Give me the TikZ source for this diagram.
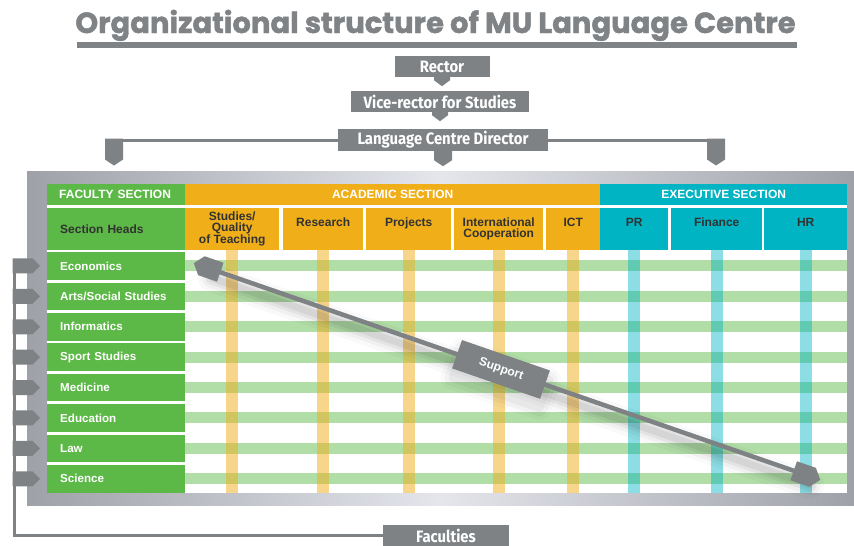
\documentclass[tikz,border=0pt]{standalone}
\usepackage{fontspec}
\setmainfont{Liberation Sans}
\newfontfamily\titlefont{Poppins}[BoldFeatures={FakeBold=1.5}]
\newfontfamily\boxfont{Fira Sans}[FakeStretch=0.9]
\usetikzlibrary{calc,positioning}

\definecolor{boxgray}{RGB}{126,130,133}
\definecolor{titlegray}{RGB}{128,131,134}
\definecolor{facgreen}{RGB}{93,185,71}
\definecolor{acaorange}{RGB}{240,175,25}
\definecolor{exeteal}{RGB}{0,180,196}
\definecolor{headtext}{RGB}{50,50,50}
\definecolor{panelA}{RGB}{158,161,167}
\definecolor{panelB}{RGB}{228,230,236}

\tikzset{
  orgbox/.style={fill=boxgray, text=white, inner sep=0pt, minimum height=21pt,
    font=\boxfont\bfseries\fontsize{16.5}{16.5}\selectfont},
  link/.style={draw=boxgray, line width=3pt},
  cell/.style={anchor=north west, inner sep=0pt,
    font=\bfseries\fontsize{12}{11}\selectfont},
  facbox/.style={cell, fill=facgreen, text=white, minimum height=27.5pt,
    text width=112pt, inner xsep=13pt, align=left, font=\bfseries\fontsize{11.6}{11}\selectfont},
  acabox/.style={cell, fill=acaorange, text=headtext, minimum height=42pt, align=center},
  exebox/.style={cell, fill=exeteal, text=headtext, minimum height=42pt, align=center},
  facstripe/.style={draw=facgreen, draw opacity=0.48, line width=11pt},
  acastripe/.style={draw=acaorange, draw opacity=0.5, line width=12pt},
  exestripe/.style={draw=exeteal, draw opacity=0.45, line width=12pt},
  tab down/.pic={\fill[boxgray] (-8,0) -- (8,0) -- (8,3) -- (0,9) -- (-8,3) -- cycle;},
  big tab/.pic={\fill[boxgray] (-9,0) -- (9,0) -- (9,21) -- (0,27) -- (-9,21) -- cycle;},
  mid tab/.pic={\fill[boxgray] (-9,0) -- (9,0) -- (9,9) -- (0,15) -- (-9,9) -- cycle;},
  tab right/.pic={\fill[boxgray] (-2,-7.5) -- (18,-7.5) -- (25.5,0) -- (18,7.5) -- (-2,7.5) -- cycle;},
}

\begin{document}
\begin{tikzpicture}[x=1pt, y=-1pt]
\useasboundingbox (0,0) rectangle (854,546);

% heading
\node[font=\titlefont\bfseries\fontsize{29}{29}\selectfont, text=titlegray, anchor=base]
  (title) at (435.5,33) {Organizational structure of MU Language Centre};
\fill[titlegray] (77,42) rectangle (797,48);

% chain of command
\node[orgbox, minimum width=95pt] (rector) at (442,66.5) {Rector};
\node[orgbox, minimum width=178pt] (vice) at (440,101.5) {Vice-rector for Studies};
\node[orgbox, minimum width=210pt, minimum height=22pt] (director) at (443,140) {Language Centre Director};
\pic at (rector.south) {tab down};
\pic at (vice.south) {tab down};

\coordinate (dropL) at (114,138.5);
\coordinate (dropR) at (716,138.5);
\draw[link] (director.west) -| (dropL);
\draw[link] (director.east) -| (dropR);
\pic at (dropL) {big tab};
\pic at (dropR) {big tab};
\pic at (director.south) {mid tab};

% frame behind the table
\fill[left color=panelA, right color=panelA, middle color=panelB] (27,171) rectangle (854,505);
\fill[white] (47,184) rectangle (847,493);
\coordinate (tabright) at (847,0);
\coordinate (tabbottom) at (0,493);

% section headers
\node[cell, fill=facgreen, text=white, minimum height=21pt, text width=114pt,
  inner xsep=12pt, align=left] (facsec) at (47,184) {FACULTY SECTION};
\node[cell, fill=acaorange, text=white, minimum width=415pt, minimum height=21pt] (acasec) at (185,184) {ACADEMIC SECTION\hspace{24pt}};
\node[cell, fill=exeteal, text=white, minimum width=247pt, minimum height=21pt] (exesec) at (600,184) {EXECUTIVE SECTION\hspace{14pt}};

\node[cell, fill=facgreen, text=headtext, minimum height=42pt, text width=112pt,
  inner xsep=13pt, align=left] (heads) at (47,208) {Section Heads};
\node[acabox, minimum width=94pt] (studies) at (185,208) {Studies/\\Quality\\of Teaching};
\node[acabox, minimum width=80pt] (research) at (283,208) {Research\\[3pt]};
\node[acabox, minimum width=85pt] (projects) at (366,208) {Projects\\[3pt]};
\node[acabox, minimum width=89pt] (intcoop) at (454,208) {International\\Cooperation};
\node[acabox, minimum width=54pt] (ict) at (546,208) {ICT\\[3pt]};
\node[exebox, minimum width=68pt] (pr) at (600,208) {PR\\[3pt]};
\node[exebox, minimum width=91pt] (finance) at (671,208) {Finance\\[3pt]};
\node[exebox, minimum width=83pt] (hr) at (764,208) {HR\\[3pt]};

% faculties
\foreach \fac [count=\i from 0] in {Economics,Arts/Social Studies,Informatics,Sport Studies,Medicine,Education,Law,Science}
  \node[facbox] (fac-\i) at (47,252+30.4*\i) {\fac};

\foreach \i in {0,...,7}
  \draw[facstripe] (fac-\i.east) -- (fac-\i.east -| tabright);
\foreach \col in {studies,research,projects,intcoop,ict}
  \draw[acastripe] (\col.south) -- (\col.south |- tabbottom);
\foreach \col in {pr,finance,hr}
  \draw[exestripe] (\col.south) -- (\col.south |- tabbottom);

% faculties bus on the left
\node[orgbox, minimum width=126pt] (faculties) at (446,535.5) {Faculties};
\coordinate (bus) at (14.5,0);
\draw[link] (bus |- fac-0.west) |- (faculties.west);
\foreach \i in {0,...,7}
  \pic at (bus |- fac-\i.west) {tab right};

% support arrow with its shadow
\coordinate (supA) at (208,268);
\coordinate (supB) at (806,475);
\foreach \w/\o in {28/0.025,20/0.035,13/0.05,7/0.06}
  \draw[black, opacity=\o, line width=\w pt, line cap=round] ($(supA)+(4,10)$) -- ($(supB)+(4,10)$);
\foreach \s/\o in {12/0.02,8/0.03,4/0.04}
  \fill[black, opacity=\o, rotate around={-19.1:($(supA)!0.49!(supB)+(3,9)$)}, rounded corners=\s pt]
    ($(supA)!0.49!(supB)+(3,9)+(-46-\s,-15-\s)$) rectangle ($(supA)!0.49!(supB)+(3,9)+(46+\s,15+\s)$);
\draw[boxgray, line width=4.5pt] (supA) -- (supB);
\begin{scope}[shift={(supA)}, rotate=-19.1]
  \fill[boxgray] (-15,0) -- (-7,-10) -- (13,-10) -- (13,10) -- (-7,10) -- cycle;
\end{scope}
\begin{scope}[shift={(supB)}, rotate=-19.1]
  \fill[boxgray] (15,0) -- (7,-10) -- (-13,-10) -- (-13,10) -- (7,10) -- cycle;
\end{scope}
\node[rotate=-19.1, fill=boxgray, text=white, minimum width=93pt, minimum height=30pt,
  inner sep=0pt, font=\bfseries\fontsize{12}{12}\selectfont]
  (support) at ($(supA)!0.49!(supB)$) {Support};
\end{tikzpicture}
\end{document}
